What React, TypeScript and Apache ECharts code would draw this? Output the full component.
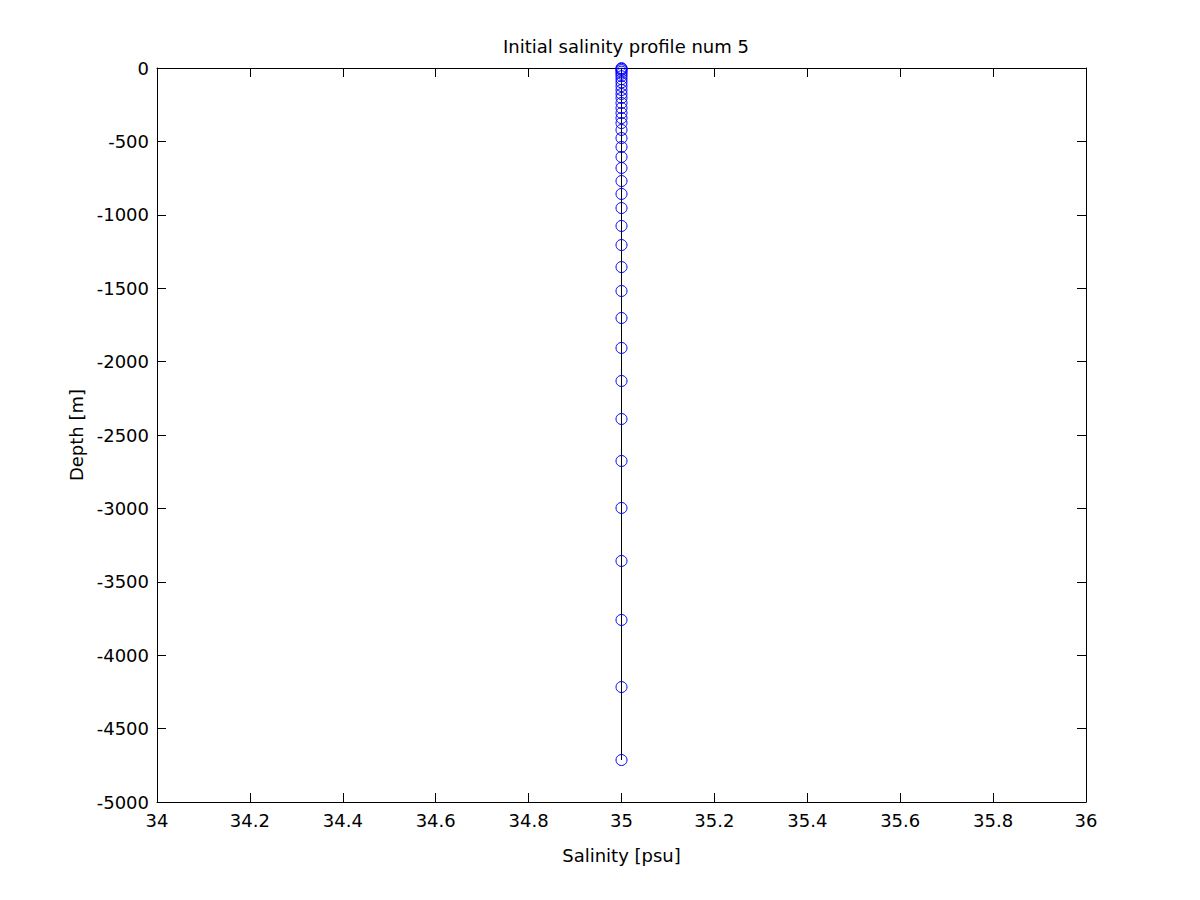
import React, { useEffect, useRef } from "react";
import * as echarts from "echarts";

const salinity = 35;
const depths: number[] = [
  -1, -6, -14, -25, -39, -56, -76, -98, -123, -150, -177, -204, -238, -272,
  -307, -341, -375, -422, -477, -538, -606, -681, -770, -858, -954, -1076,
  -1206, -1356, -1519, -1703, -1907, -2132, -2391, -2677, -2997, -3358,
  -3760, -4217, -4714,
];
const titleText = "Initial salinity profile num 5";
const xName = "Salinity [psu]";
const yName = "Depth [m]";

const FONT = "DejaVu Sans";

export default function App() {
  const ref = useRef<HTMLDivElement>(null);
  useEffect(() => {
    if (!ref.current) return;
    const chart = echarts.init(ref.current, undefined, { renderer: "svg" });
    const data = depths.map((d) => [salinity, d]);
    const tickCommon = {
      show: true,
      inside: true,
      length: 9,
      lineStyle: { color: "#000", width: 1 },
    };
    const fmt = (v: number) => String(Math.round(v * 1000) / 1000);
    chart.setOption({
      animation: false,
      backgroundColor: "#fff",
      title: {
        text: titleText,
        left: 621,
        textAlign: "center",
        top: 32,
        textStyle: { fontFamily: FONT, fontSize: 18, fontWeight: "normal", color: "#000" },
      },
      grid: { left: 157, right: 114, top: 68, bottom: 98, containLabel: false },
      xAxis: [
        {
          type: "value",
          position: "bottom",
          min: 34,
          max: 36,
          interval: 0.2,
          name: xName,
          nameLocation: "middle",
          nameGap: 44,
          nameTextStyle: { fontFamily: FONT, fontSize: 18, color: "#000" },
          axisLine: { show: true, onZero: false, lineStyle: { color: "#000", width: 1 } },
          axisTick: tickCommon,
          axisLabel: { fontFamily: FONT, fontSize: 18, color: "#000", margin: 9, formatter: fmt },
          splitLine: { show: false },
        },
        {
          type: "value",
          position: "top",
          min: 34,
          max: 36,
          interval: 0.2,
          axisLine: { show: true, onZero: false, lineStyle: { color: "#000", width: 1 } },
          axisTick: tickCommon,
          axisLabel: { show: false },
          splitLine: { show: false },
        },
      ],
      yAxis: [
        {
          type: "value",
          position: "left",
          min: -5000,
          max: 0,
          interval: 500,
          name: yName,
          nameLocation: "middle",
          nameGap: 72,
          nameRotate: 90,
          nameTextStyle: { fontFamily: FONT, fontSize: 18, color: "#000" },
          axisLine: { show: true, onZero: false, lineStyle: { color: "#000", width: 1 } },
          axisTick: tickCommon,
          axisLabel: { fontFamily: FONT, fontSize: 18, color: "#000", margin: 8, formatter: fmt },
          splitLine: { show: false },
        },
        {
          type: "value",
          position: "right",
          min: -5000,
          max: 0,
          interval: 500,
          axisLine: { show: true, onZero: false, lineStyle: { color: "#000", width: 1 } },
          axisTick: tickCommon,
          axisLabel: { show: false },
          splitLine: { show: false },
        },
      ],
      series: [
        {
          type: "line",
          xAxisIndex: 0,
          yAxisIndex: 0,
          data,
          symbol: "circle",
          symbolSize: 11,
          showAllSymbol: true,
          clip: false,
          lineStyle: { color: "#000", width: 1 },
          itemStyle: { color: "rgba(0,0,0,0)", borderColor: "#0000ff", borderWidth: 1 },
          emphasis: { disabled: true },
        },
      ],
    });
    return () => chart.dispose();
  }, []);
  return (
    <div
      ref={ref}
      style={{ position: "fixed", left: 0, top: 0, width: 1200, height: 900, background: "#fff" }}
    />
  );
}
